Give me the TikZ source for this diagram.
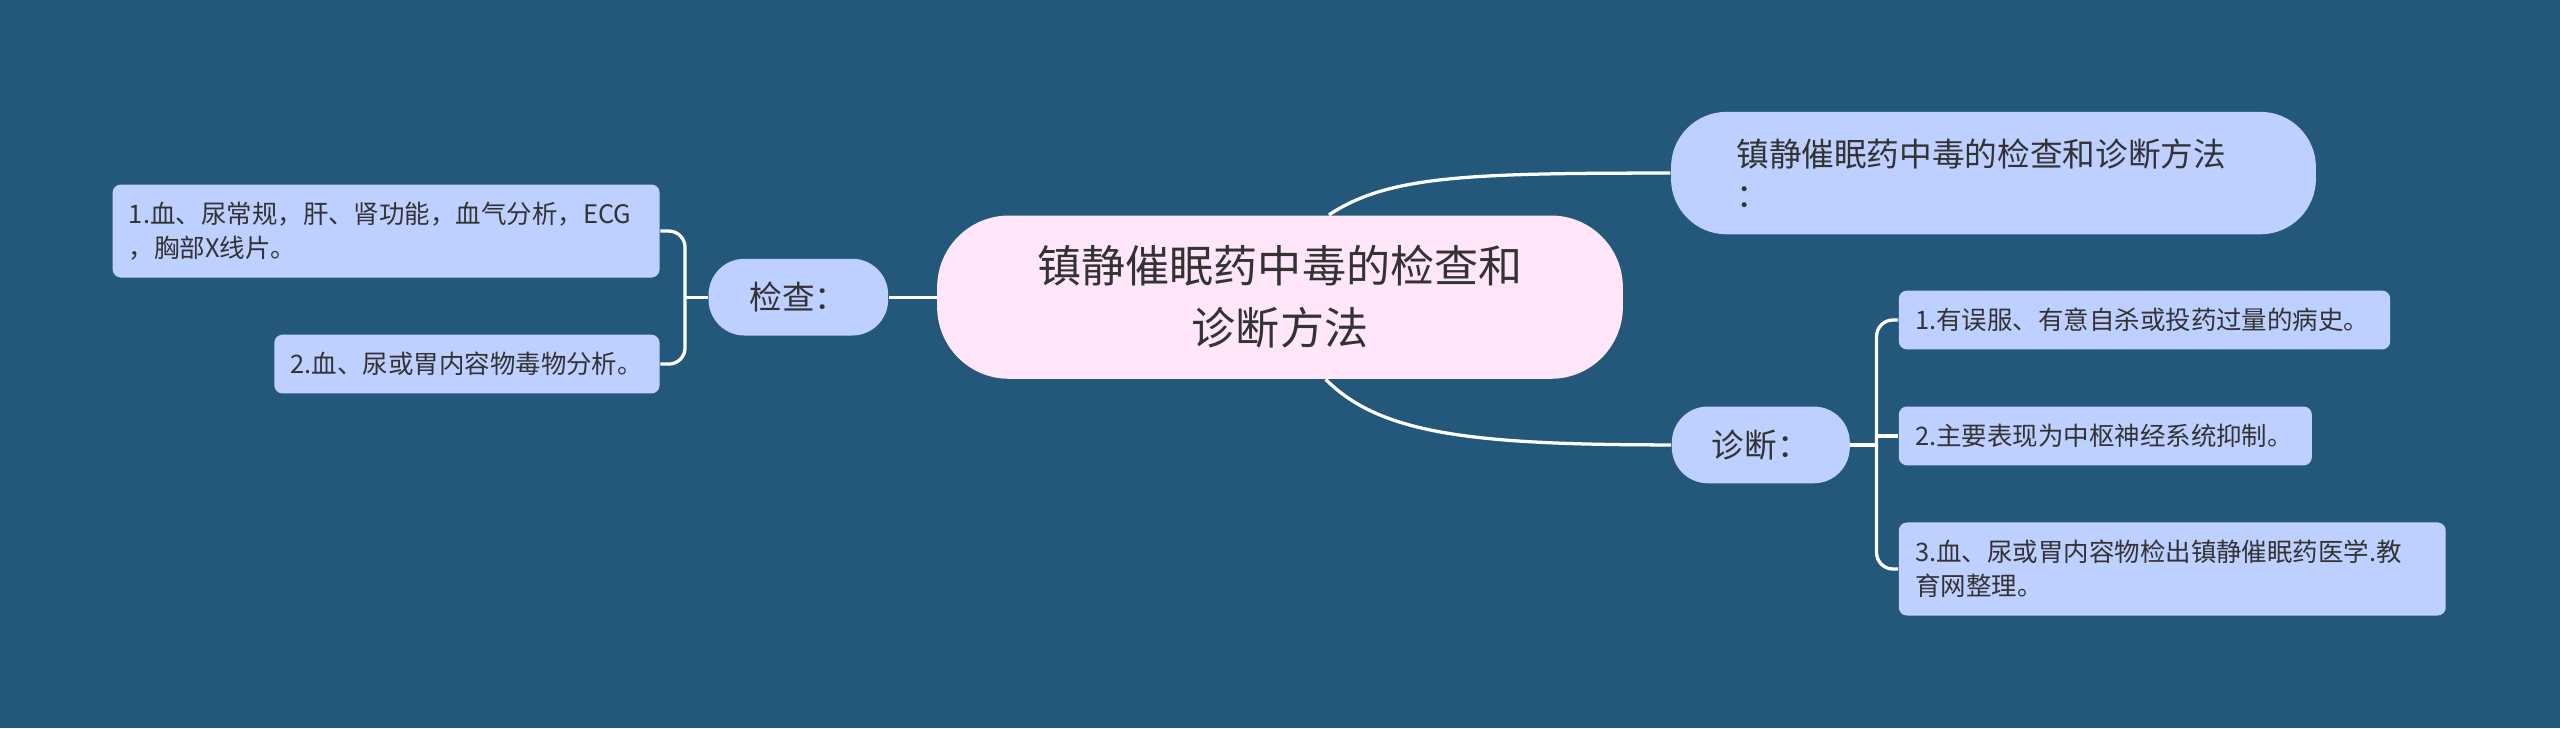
\documentclass[tikz,border=0pt]{standalone}
\usepackage{fontspec}
\setmainfont{Noto Sans CJK SC}
\usepackage{tikz}
\usetikzlibrary{calc}

\definecolor{bgblue}{RGB}{36,88,122}
\definecolor{rootpink}{RGB}{255,230,250}
\definecolor{nodeblue}{RGB}{190,208,255}
\definecolor{txtgray}{RGB}{51,51,51}

\tikzset{
	link/.style={draw=white, line width=1pt},
	rootbox/.style={rectangle, fill=rootpink, text=txtgray, rounded corners=22pt, inner sep=0pt,
		align=center, font=\fontsize{13.5}{19}\selectfont},
	topicbox/.style={rectangle, fill=nodeblue, text=txtgray, rounded corners=11pt, inner sep=0pt,
		font=\fontsize{10}{12.5}\selectfont},
	leafbox/.style={rectangle, fill=nodeblue, text=txtgray, rounded corners=2.5pt, inner xsep=5pt,
		inner ysep=0pt, align=left, font=\fontsize{7.8}{10.5}\selectfont},
}

\begin{document}
\begin{tikzpicture}[x=0.5pt,y=-0.5pt]

	% Background
	\fill[bgblue] (0,0) rectangle (1568,446);
	\useasboundingbox (0,0) rectangle (1568,446);

	% Centre and first level
	\node[rootbox, minimum width=210pt, minimum height=50pt] (root) at (784,182) {镇静催眠药中毒的检查和\\诊断方法};
	\node[topicbox, rounded corners=17pt, minimum width=197.5pt, minimum height=37.5pt, text width=157.5pt, align=left] (topic) at (1221,106) {镇静催眠药中毒的检查和诊断方法\\：};
	\node[topicbox, minimum width=55pt, minimum height=23.5pt] (jc) at (489,182) {检查：};
	\node[topicbox, minimum width=54.5pt, minimum height=23.5pt] (zd) at (1078.5,272.5) {诊断：};

	% Leaves
	\node[leafbox, text width=157.5pt, minimum height=28.5pt] (jc1) at (236.5,141.5) {1.血、尿常规，肝、肾功能，血气分析，ECG\\，胸部X线片。};
	\node[leafbox, text width=108pt, minimum height=18pt] (jc2) at (286,223) {2.血、尿或胃内容物毒物分析。};
	\node[leafbox, text width=140.5pt, minimum height=18pt] (zd1) at (1313.5,196) {1.有误服、有意自杀或投药过量的病史。};
	\node[leafbox, text width=116.5pt, minimum height=18pt] (zd2) at (1289.5,267) {2.主要表现为中枢神经系统抑制。};
	\node[leafbox, text width=157.5pt, minimum height=28.5pt] (zd3) at (1330.5,348.5) {3.血、尿或胃内容物检出镇静催眠药医学.教\\育网整理。};

	% Connectors
	\draw[link] (jc.east) -- (root.west);
	\draw[link] ($(root.north)+(30,0)$) .. controls +(36,-24) and +(-124,0) .. (topic.west);
	\draw[link] ($(root.south)+(28,0)$) .. controls +(33,33) and +(-124,0) .. (zd.west);

	\coordinate (jcfork) at ($(jc.west)+(-14,0)$);
	\draw[link] (jc.west) -- (jcfork);
	\draw[link, rounded corners=5pt] (jc1.east) -| (jcfork) |- (jc2.east);

	\coordinate (zdfork) at ($(zd.east)+(16,0)$);
	\draw[link] (zd.east) -- (zdfork);
	\draw[link, rounded corners=5pt] (zd1.west) -| (zdfork) |- (zd3.west);
	\draw[link] (zd2.west) -- (zd2.west -| zdfork);

\end{tikzpicture}
\end{document}
